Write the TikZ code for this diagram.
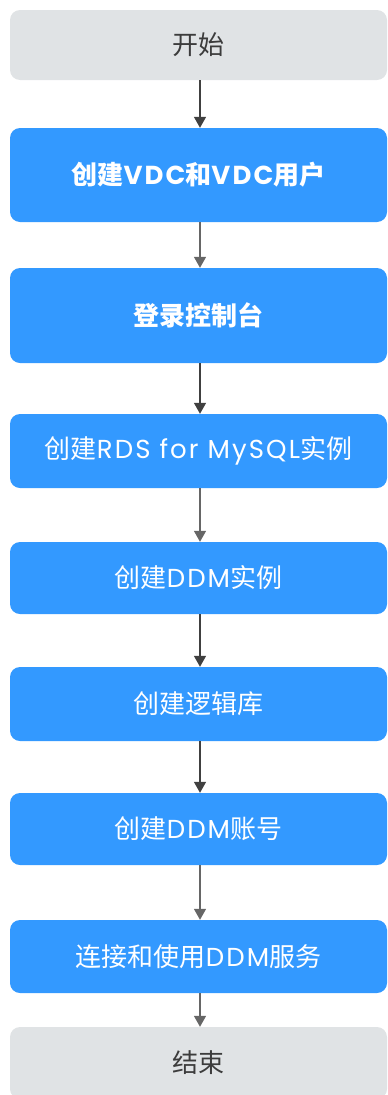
\documentclass[tikz,border=0pt]{standalone}
\usepackage{fontspec}
\setmainfont{Noto Sans CJK SC}
\newfontfamily\latfont[LetterSpace=8]{Poppins}
\newcommand{\lat}[1]{{\latfont #1}}
\usetikzlibrary{arrows.meta}
\definecolor{stepblue}{RGB}{51,153,255}
\definecolor{termgray}{RGB}{224,227,229}
\definecolor{termtext}{RGB}{60,60,60}
\definecolor{arrdark}{RGB}{64,64,64}
\definecolor{arrlight}{RGB}{102,102,102}
\tikzset{
  basebox/.style={rounded corners=10pt, minimum width=377pt, inner sep=0pt, font=\fontsize{26}{30}\selectfont},
  termbox/.style={basebox, fill=termgray, text=termtext},
  stepbox/.style={basebox, fill=stepblue, text=white},
  boldstep/.style={stepbox, font=\fontsize{26}{30}\selectfont\bfseries},
  flow/.style={line width=1.5pt, -{Triangle[width=12pt,length=11pt]}},
  flowdark/.style={flow, draw=arrdark},
  flowlight/.style={flow, draw=arrlight},
}
\begin{document}
\begin{tikzpicture}[x=1pt,y=-1pt]
\useasboundingbox (0,0) rectangle (388,1095);
\node[termbox, minimum height=70pt] (n1) at (198.5,45) {开始};
\node[boldstep, minimum height=94pt] (n2) at (198.5,175) {创建\lat{VDC}和\lat{VDC}用户};
\node[boldstep, minimum height=95pt] (n3) at (198.5,315.5) {登录控制台};
\node[stepbox, minimum height=74pt] (n4) at (198.5,451) {创建\lat{RDS for MySQL}实例};
\node[stepbox, minimum height=72pt] (n5) at (198.5,578) {创建\lat{DDM}实例};
\node[stepbox, minimum height=74pt] (n6) at (198.5,704) {创建逻辑库};
\node[stepbox, minimum height=72pt] (n7) at (198.5,829) {创建\lat{DDM}账号};
\node[stepbox, minimum height=73pt] (n8) at (198.5,956.5) {连接和使用\lat{DDM}服务};
\node[termbox, minimum height=72pt] (n9) at (198.5,1063) {结束};
\draw[flowdark] (n1.south -| 200,0) -- (n2.north -| 200,0);
\draw[flowlight] (n2.south -| 200,0) -- (n3.north -| 200,0);
\draw[flowdark] (n3.south -| 200,0) -- (n4.north -| 200,0);
\draw[flowlight] (n4.south -| 200,0) -- (n5.north -| 200,0);
\draw[flowdark] (n5.south -| 200,0) -- (n6.north -| 200,0);
\draw[flowdark] (n6.south -| 200,0) -- (n7.north -| 200,0);
\draw[flowlight] (n7.south -| 200,0) -- (n8.north -| 200,0);
\draw[flowlight] (n8.south -| 200,0) -- (n9.north -| 200,0);
\end{tikzpicture}
\end{document}
